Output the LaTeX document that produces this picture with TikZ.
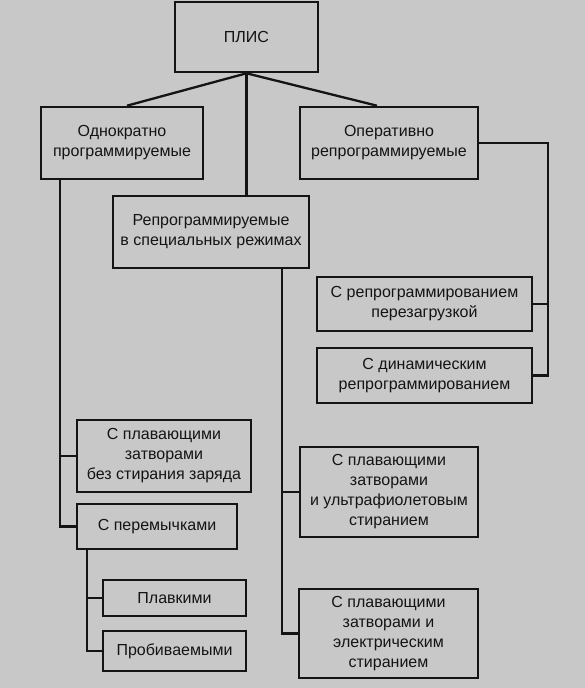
\documentclass[tikz,border=0pt]{standalone}
\usepackage{fontspec}
\setmainfont{Liberation Sans}
\definecolor{bg}{RGB}{200,200,200}
\definecolor{ink}{RGB}{20,20,20}
\begin{document}
\begin{tikzpicture}[x=1pt,y=-1pt,
  box/.style={draw=ink,line width=2.6pt,rectangle,inner sep=0pt,align=center,
    font=\fontsize{16}{20}\selectfont,text=ink},
  conn/.style={draw=ink,line width=2.3pt}]
\fill[bg] (0,0) rectangle (585,688);
\useasboundingbox (0,0) rectangle (585,688);
\node[box,minimum width=143pt,minimum height=70pt] (plis) at (246.5,37) {ПЛИС};
\node[box,minimum width=162pt,minimum height=72pt] (odn) at (122,143) {Однократно\\программируемые};
\node[box,minimum width=178pt,minimum height=72pt] (oper) at (389,143) {Оперативно\\репрограммируемые};
\node[box,minimum width=196pt,minimum height=72pt] (spec) at (211,232) {Репрограммируемые\\в специальных режимах};
\node[box,minimum width=215pt,minimum height=54pt] (pereg) at (424.5,304) {С репрограммированием\\перезагрузкой};
\node[box,minimum width=215pt,minimum height=55pt] (dyn) at (424.5,375.5) {С динамическим\\репрограммированием};
\node[box,minimum width=174pt,minimum height=72pt] (flg) at (164,456) {С плавающими\\затворами\\без стирания заряда};
\node[box,minimum width=160pt,minimum height=45pt] (jump) at (157,526.5) {С перемычками};
\node[box,minimum width=143pt,minimum height=36pt] (plav) at (174.5,598) {Плавкими};
\node[box,minimum width=143pt,minimum height=40pt] (prob) at (174.5,651) {Пробиваемыми};
\node[box,minimum width=178pt,minimum height=90pt] (uv) at (389,492) {С плавающими\\затворами\\и ультрафиолетовым\\стиранием};
\node[box,minimum width=179pt,minimum height=89pt] (el) at (388.5,633.5) {С плавающими\\затворами и\\электрическим\\стиранием};
\coordinate (rx) at (548,0);
\coordinate (lx) at (60,0);
\coordinate (sx) at (87,0);
\coordinate (mx) at (282,0);
\draw[conn] (plis.south) -- ([xshift=5pt]odn.north);
\draw[conn] (plis.south) -- ([xshift=-12pt]oper.north);
\draw[conn] (plis.south) -- (plis.south |- spec.north);
\draw[conn] (oper.east) -- (oper.east -| rx) -- (dyn.east -| rx) -- (dyn.east);
\draw[conn] (pereg.east) -- (pereg.east -| rx);
\draw[conn] (odn.south -| lx) |- (jump.west);
\draw[conn] (flg.west) -- (flg.west -| lx);
\draw[conn] (jump.south -| sx) |- (prob.west);
\draw[conn] (plav.west) -- (plav.west -| sx);
\draw[conn] (spec.south -| mx) |- (el.west);
\draw[conn] (uv.west) -- (uv.west -| mx);
\end{tikzpicture}
\end{document}
